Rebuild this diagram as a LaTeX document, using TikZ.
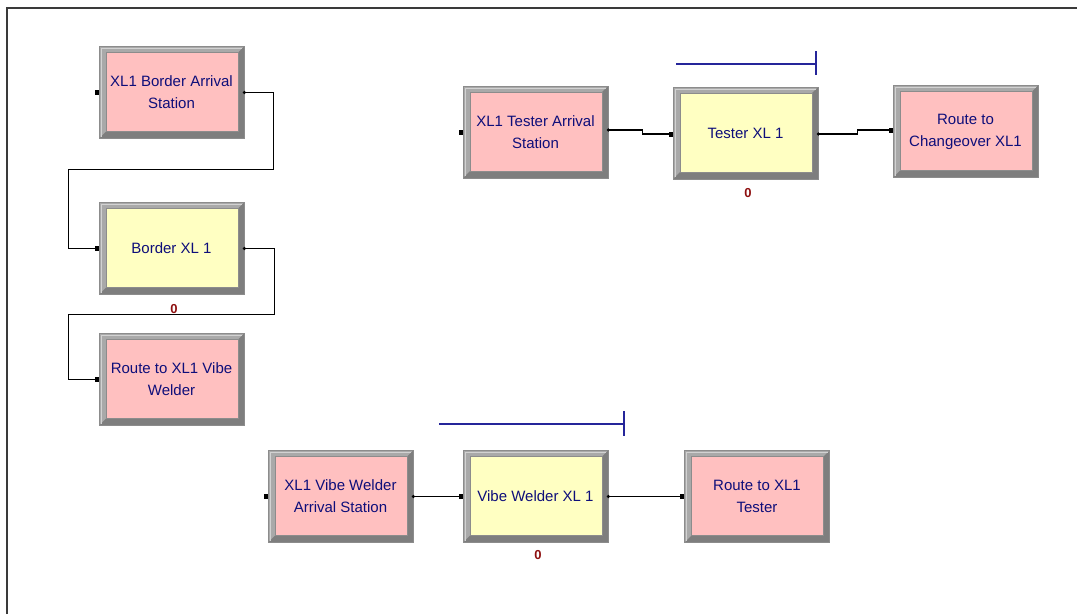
\documentclass[tikz,border=0pt]{standalone}
\usepackage{fontspec}
\newfontfamily\boxfont{Liberation Sans}
\definecolor{pinkfill}{HTML}{FFC0C0}
\definecolor{yellowfill}{HTML}{FFFFC2}
\definecolor{framemid}{HTML}{A9A9A9}
\definecolor{framedark}{HTML}{7E7E7E}
\definecolor{framelight}{HTML}{D2D2D2}
\definecolor{frameedge}{HTML}{8C8C8C}
\definecolor{textblue}{HTML}{0E0E7A}
\definecolor{lineblue}{HTML}{25259A}
\definecolor{qred}{HTML}{8E1010}
\definecolor{canvasline}{HTML}{3A3A3A}
\tikzset{
  blk/.style={rectangle, minimum width=145pt, minimum height=92pt, inner sep=0pt,
    draw=frameedge, line width=0.8pt, fill=framemid, text=textblue,
    font={\boxfont\fontsize{15}{22}\selectfont}, align=center,
    path picture={
      \fill[framedark] (path picture bounding box.north east)
        -- (path picture bounding box.south east)
        -- (path picture bounding box.south west)
        -- ([shift={(7,-7)}]path picture bounding box.south west)
        -- ([shift={(-6,-7)}]path picture bounding box.south east)
        -- ([shift={(-6,6)}]path picture bounding box.north east) -- cycle;
      \draw[framelight, line width=1pt] ([shift={(2,-2)}]path picture bounding box.south west)
        -- ([shift={(2,2)}]path picture bounding box.north west)
        -- ([shift={(-2,2)}]path picture bounding box.north east);
      \fill[#1, draw=frameedge, line width=0.6pt] ([shift={(7,6)}]path picture bounding box.north west)
        rectangle ([shift={(-6,-7)}]path picture bounding box.south east);
    }},
  conn/.style={draw=black, line width=1.5pt},
  qline/.style={draw=lineblue, line width=1.4pt},
  qnum/.style={text=qred, font={\boxfont\bfseries\fontsize{13}{13}\selectfont}, inner sep=0pt},
  ent/.pic={\fill[black] (-4,-2.5) rectangle (0,2.5);},
  ext/.pic={\fill[black] (0,0) circle (1.8);}
}
\begin{document}
\begin{tikzpicture}[x=1pt,y=-1pt]
\useasboundingbox (0,0) rectangle (1077,614);
\fill[white] (0,0) rectangle (1077,614);
% canvas frame
\draw[canvasline, line width=2pt] (7,614) -- (7,8) -- (1077,8);

% blocks
\node[blk=pinkfill]   (b1) at (171.5,92.5)  {XL1 Border Arrival\\Station};
\node[blk=yellowfill] (b2) at (171.5,248.5) {Border XL 1};
\node[blk=pinkfill]   (b3) at (171.5,379.5) {Route to XL1 Vibe\\Welder};
\node[blk=pinkfill]   (b4) at (535.5,132)   {XL1 Tester Arrival\\Station};
\node[blk=yellowfill] (b5) at (745.5,133)   {Tester XL 1};
\node[blk=pinkfill]   (b6) at (965.5,131.5) {Route to\\Changeover XL1};
\node[blk=pinkfill]   (b7) at (340.5,496.5) {XL1 Vibe Welder\\Arrival Station};
\node[blk=yellowfill] (b8) at (535.5,496.5) {Vibe Welder XL 1};
\node[blk=pinkfill]   (b9) at (757,496.5)   {Route to XL1\\Tester};

% queue counters
\node[qnum] (q2) at (174,309) {0};
\node[qnum] (q5) at (748,193) {0};
\node[qnum] (q8) at (538,555) {0};

% resource/queue indicator lines
\draw[qline] (676,64) -- (816,64);
\draw[qline] (816,51) -- (816,75);
\draw[qline] (439,424) -- (624,424);
\draw[qline] (624,411) -- (624,436);

% connectors
\draw[conn] (b1.east) -- ++(29,0) -- ++(0,77) -| ([xshift=-30pt]b2.west) -- (b2.west);
\draw[conn] (b2.east) -- ++(30,0) -- ++(0,66) -| ([xshift=-30pt]b3.west) -- (b3.west);
\draw[conn] ([yshift=2pt]b4.east) -- ++(34,0) |- ([yshift=-1pt]b5.west);
\draw[conn] ([yshift=-1pt]b5.east) -- ++(39,0) |- ([yshift=1.5pt]b6.west);
\draw[conn] (b7.east) -- (b8.west);
\draw[conn] (b8.east) -- (b9.west);

% entry and exit points
\pic at (b1.west) {ent};
\pic at (b2.west) {ent};
\pic at (b3.west) {ent};
\pic at (b4.west) {ent};
\pic at ([yshift=-1pt]b5.west) {ent};
\pic at ([yshift=1.5pt]b6.west) {ent};
\pic at (b7.west) {ent};
\pic at (b8.west) {ent};
\pic at (b9.west) {ent};
\pic at (b1.east) {ext};
\pic at (b2.east) {ext};
\pic at ([yshift=2pt]b4.east) {ext};
\pic at ([yshift=-1pt]b5.east) {ext};
\pic at (b7.east) {ext};
\pic at (b8.east) {ext};
\end{tikzpicture}
\end{document}
